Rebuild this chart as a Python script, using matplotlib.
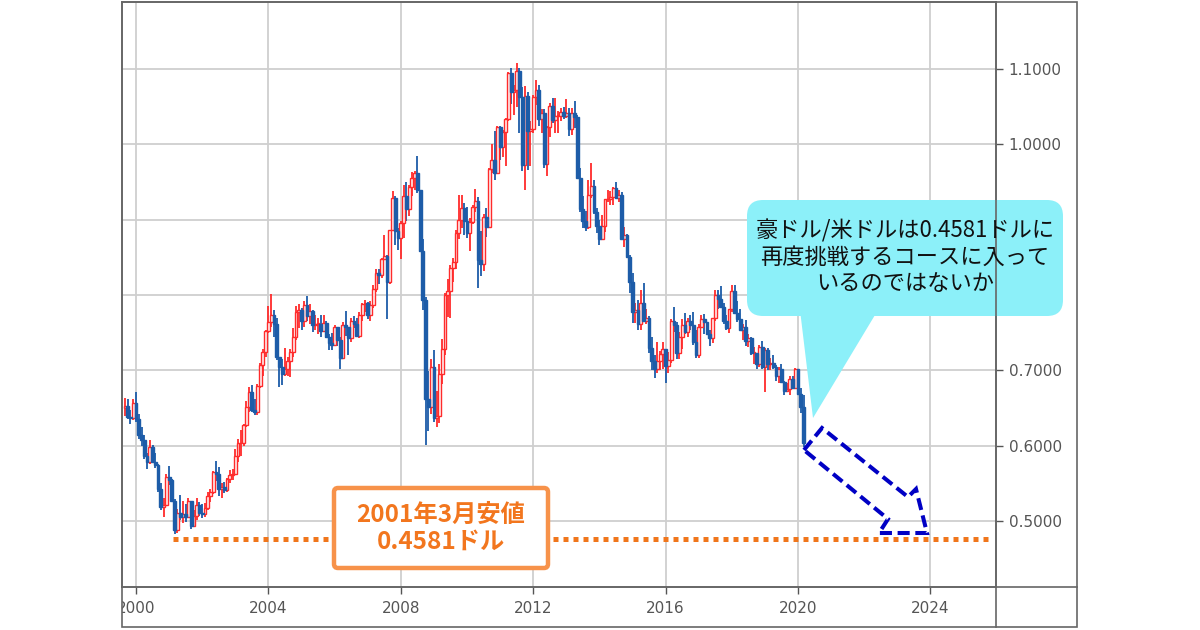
import numpy as np
import matplotlib
matplotlib.use("Agg")
import matplotlib.pyplot as plt
from matplotlib.patches import FancyBboxPatch, Polygon, Rectangle
from matplotlib.transforms import Bbox, TransformedBbox

plt.rcParams['font.family'] = ['DejaVu Sans', 'Noto Sans CJK JP']

# monthly AUD/USD candles, Sep 1999 .. Mar 2020
start_year = 1999 + 8 / 12
first_open = 0.6500

close = [
    0.6530, 0.6388, 0.6370, 0.6568,
    0.6360, 0.6140, 0.6080, 0.5860, 0.5790, 0.5985, 0.5790, 0.5740, 0.5420, 0.5190, 0.5210, 0.5590,
    0.5550, 0.5270, 0.4880, 0.5110, 0.5060, 0.5090, 0.5060, 0.5270, 0.4930, 0.5070, 0.5210, 0.5110,
    0.5090, 0.5170, 0.5330, 0.5390, 0.5650, 0.5630, 0.5420, 0.5450, 0.5410, 0.5560, 0.5610, 0.5620,
    0.5870, 0.6030, 0.6030, 0.6270, 0.6510, 0.6710, 0.6480, 0.6450, 0.6790, 0.7070, 0.7250, 0.7520,
    0.7640, 0.7740, 0.7620, 0.7180, 0.7040, 0.6950, 0.7020, 0.7130, 0.7240, 0.7450, 0.7770, 0.7800,
    0.7660, 0.7870, 0.7720, 0.7790, 0.7600, 0.7620, 0.7620, 0.7520, 0.7630, 0.7450, 0.7370, 0.7340,
    0.7580, 0.7410, 0.7160, 0.7600, 0.7580, 0.7430, 0.7660, 0.7620, 0.7460, 0.7740, 0.7880, 0.7900,
    0.7740, 0.7870, 0.8080, 0.8290, 0.8270, 0.8480, 0.8520, 0.8180, 0.8860, 0.9290, 0.8850, 0.8760,
    0.8960, 0.9320, 0.9140, 0.9440, 0.9560, 0.9620, 0.9400, 0.8590, 0.7930, 0.6620, 0.6510, 0.7040,
    0.6370, 0.6400, 0.6950, 0.7280, 0.8000, 0.8060, 0.8360, 0.8440, 0.8820, 0.9000, 0.9160, 0.8980,
    0.8830, 0.8970, 0.9170, 0.9250, 0.8470, 0.8410, 0.9040, 0.8910, 0.9680, 0.9800, 0.9620, 1.0230,
    0.9970, 1.0170, 1.0340, 1.0950, 1.0700, 1.0730, 1.0980, 1.0630, 0.9730, 1.0640, 1.0180, 1.0210,
    1.0630, 1.0720, 1.0340, 1.0420, 0.9740, 1.0230, 1.0510, 1.0330, 1.0380, 1.0380, 1.0430, 1.0380,
    1.0420, 1.0210, 1.0420, 1.0360, 0.9560, 0.9140, 0.8990, 0.8910, 0.9330, 0.9450, 0.9100, 0.8920,
    0.8740, 0.8920, 0.9270, 0.9280, 0.9300, 0.9420, 0.9290, 0.9330, 0.8740, 0.8800, 0.8500, 0.8170,
    0.7770, 0.7800, 0.7610, 0.7900, 0.7650, 0.7700, 0.7300, 0.7120, 0.7020, 0.7130, 0.7220, 0.7280,
    0.7060, 0.7140, 0.7660, 0.7600, 0.7230, 0.7450, 0.7600, 0.7510, 0.7650, 0.7600, 0.7380, 0.7210,
    0.7580, 0.7680, 0.7640, 0.7480, 0.7430, 0.7690, 0.8000, 0.7950, 0.7840, 0.7650, 0.7560, 0.7810,
    0.8050, 0.7760, 0.7680, 0.7530, 0.7570, 0.7390, 0.7430, 0.7230, 0.7230, 0.7080, 0.7310, 0.7040,
    0.7270, 0.7090, 0.7100, 0.7050, 0.6930, 0.7020, 0.6850, 0.6730, 0.6750, 0.6890, 0.6770, 0.7020,
    0.6690, 0.6510, 0.6030,
]

high = [
    0.6640, 0.6620, 0.6480, 0.6620,
    0.6710, 0.6420, 0.6250, 0.6140, 0.5900, 0.6070, 0.6010, 0.5900, 0.5760, 0.5500, 0.5300, 0.5620,
    0.5730, 0.5560, 0.5290, 0.5160, 0.5350, 0.5260, 0.5220, 0.5310, 0.5270, 0.5150, 0.5300, 0.5250,
    0.5220, 0.5240, 0.5380, 0.5420, 0.5670, 0.5800, 0.5720, 0.5500, 0.5520, 0.5570, 0.5680, 0.5690,
    0.5950, 0.6090, 0.6210, 0.6290, 0.6600, 0.6780, 0.6810, 0.6620, 0.6820, 0.7100, 0.7280, 0.7530,
    0.7850, 0.8010, 0.7800, 0.7700, 0.7180, 0.7150, 0.7300, 0.7180, 0.7290, 0.7560, 0.7850, 0.7880,
    0.7830, 0.7920, 0.7990, 0.7880, 0.7800, 0.7740, 0.7690, 0.7730, 0.7730, 0.7650, 0.7490, 0.7500,
    0.7600, 0.7570, 0.7450, 0.7640, 0.7790, 0.7580, 0.7700, 0.7720, 0.7690, 0.7780, 0.7890, 0.7930,
    0.7910, 0.7920, 0.8130, 0.8340, 0.8350, 0.8490, 0.8800, 0.8530, 0.8870, 0.9380, 0.9320, 0.8890,
    0.8990, 0.9460, 0.9500, 0.9460, 0.9640, 0.9650, 0.9850, 0.9400, 0.8750, 0.7970, 0.6990, 0.7150,
    0.7270, 0.6720, 0.7090, 0.7420, 0.8030, 0.8210, 0.8400, 0.8490, 0.8860, 0.9330, 0.9330, 0.9220,
    0.9170, 0.9020, 0.9200, 0.9410, 0.9300, 0.8850, 0.9080, 0.9150, 0.9690, 1.0000, 1.0180, 1.0240,
    1.0250, 1.0190, 1.0350, 1.0960, 1.1010, 1.0790, 1.1080, 1.1020, 1.0760, 1.0780, 1.0700, 1.0310,
    1.0660, 1.0860, 1.0790, 1.0470, 1.0470, 1.0240, 1.0550, 1.0620, 1.0620, 1.0440, 1.0480, 1.0500,
    1.0600, 1.0490, 1.0490, 1.0580, 1.0390, 0.9690, 0.9310, 0.9120, 0.9530, 0.9760, 0.9530, 0.9160,
    0.9000, 0.9060, 0.9280, 0.9400, 0.9380, 0.9440, 0.9500, 0.9400, 0.9370, 0.8900, 0.8810, 0.8530,
    0.8300, 0.7900, 0.7930, 0.8070, 0.8160, 0.7820, 0.7720, 0.7440, 0.7200, 0.7380, 0.7260, 0.7380,
    0.7290, 0.7240, 0.7680, 0.7840, 0.7640, 0.7510, 0.7680, 0.7760, 0.7700, 0.7740, 0.7780, 0.7530,
    0.7610, 0.7740, 0.7750, 0.7640, 0.7530, 0.7700, 0.8070, 0.8070, 0.8120, 0.7900, 0.7730, 0.7810,
    0.8136, 0.8130, 0.7920, 0.7810, 0.7610, 0.7670, 0.7480, 0.7450, 0.7310, 0.7230, 0.7340, 0.7390,
    0.7300, 0.7300, 0.7170, 0.7210, 0.7070, 0.7040, 0.7080, 0.6860, 0.6830, 0.6930, 0.6930, 0.7030,
    0.7020, 0.6770, 0.6680,
]

low = [
    0.6400, 0.6350, 0.6290, 0.6340,
    0.6320, 0.6090, 0.6000, 0.5830, 0.5690, 0.5760, 0.5770, 0.5710, 0.5390, 0.5140, 0.5060, 0.5200,
    0.5480, 0.5250, 0.4830, 0.4840, 0.5020, 0.4980, 0.4990, 0.5040, 0.4900, 0.4930, 0.5020, 0.5070,
    0.5040, 0.5050, 0.5140, 0.5250, 0.5360, 0.5530, 0.5330, 0.5310, 0.5370, 0.5390, 0.5500, 0.5540,
    0.5620, 0.5790, 0.5860, 0.5990, 0.6250, 0.6450, 0.6450, 0.6410, 0.6410, 0.6760, 0.6930, 0.7180,
    0.7500, 0.7580, 0.7440, 0.7140, 0.6780, 0.6810, 0.6930, 0.6930, 0.6910, 0.7180, 0.7410, 0.7560,
    0.7540, 0.7570, 0.7660, 0.7610, 0.7510, 0.7540, 0.7490, 0.7440, 0.7520, 0.7430, 0.7270, 0.7270,
    0.7320, 0.7330, 0.7020, 0.7150, 0.7460, 0.7200, 0.7380, 0.7560, 0.7440, 0.7430, 0.7660, 0.7770,
    0.7680, 0.7660, 0.7830, 0.8040, 0.8150, 0.8230, 0.8460, 0.7680, 0.8150, 0.8850, 0.8670, 0.8600,
    0.8480, 0.8760, 0.8980, 0.9050, 0.9310, 0.9400, 0.9360, 0.8570, 0.7800, 0.6008, 0.6190, 0.6420,
    0.6310, 0.6250, 0.6300, 0.6820, 0.7210, 0.7710, 0.7700, 0.8170, 0.8340, 0.8750, 0.8890, 0.8800,
    0.8760, 0.8580, 0.8940, 0.9100, 0.8090, 0.8250, 0.8320, 0.8770, 0.8890, 0.9620, 0.9530, 0.9700,
    0.9790, 0.9830, 0.9710, 1.0310, 1.0540, 1.0390, 1.0500, 1.0150, 0.9650, 0.9390, 0.9660, 0.9710,
    1.0150, 1.0530, 1.0250, 1.0150, 0.9690, 0.9580, 1.0100, 1.0290, 1.0150, 1.0150, 1.0310, 1.0340,
    1.0350, 1.0110, 1.0120, 1.0220, 0.9560, 0.9100, 0.8890, 0.8850, 0.8880, 0.9290, 0.9080, 0.8820,
    0.8660, 0.8850, 0.8840, 0.9230, 0.9190, 0.9200, 0.9290, 0.9240, 0.8740, 0.8640, 0.8500, 0.8030,
    0.7630, 0.7630, 0.7530, 0.7530, 0.7650, 0.7620, 0.7230, 0.7010, 0.6900, 0.6970, 0.7010, 0.7020,
    0.6830, 0.6970, 0.7100, 0.7510, 0.7150, 0.7150, 0.7280, 0.7480, 0.7440, 0.7540, 0.7340, 0.7160,
    0.7160, 0.7570, 0.7490, 0.7470, 0.7330, 0.7370, 0.7650, 0.7810, 0.7830, 0.7620, 0.7530, 0.7500,
    0.7770, 0.7760, 0.7640, 0.7530, 0.7410, 0.7320, 0.7310, 0.7200, 0.7080, 0.7020, 0.7050, 0.7020,
    0.6715, 0.7000, 0.7000, 0.7020, 0.6860, 0.6830, 0.6830, 0.6680, 0.6720, 0.6670, 0.6750, 0.6760,
    0.6680, 0.6430, 0.5980,
]

low_level = 0.476          # where the dotted support line sits on the chart
x_ticks = [2000, 2004, 2008, 2012, 2016, 2020, 2024]
y_ticks = [0.5, 0.6, 0.7, 0.8, 0.9, 1.0, 1.1]
hidden_y = [0.8, 0.9]      # these labels sit under the callout in the original

callout_text = "豪ドル/米ドルは0.4581ドルに\n再度挑戦するコースに入って\nいるのではないか"
box_text = "2001年3月安値\n0.4581ドル"

UP = "#ff2b2b"
DOWN = "#1d5ca8"
GRID = "#cfcfcf"
FRAME = "#666666"

c = np.array(close)
o = np.concatenate([[first_open], c[:-1]])
h = np.maximum(np.array(high), np.maximum(o, c))
l = np.minimum(np.array(low), np.minimum(o, c))
x = start_year + np.arange(len(c)) / 12
up = c >= o

fig = plt.figure(figsize=(12, 6.3), dpi=100)
fig.patch.set_facecolor("white")

ax = fig.add_axes([122 / 1200, 43 / 630, 874 / 1200, 585 / 630])
ax.set_xlim(1999.577, 2025.98)
ax.set_ylim(0.4124, 1.1892)

ax.grid(True, color=GRID, lw=1.3)
ax.set_axisbelow(True)

# wicks
ax.vlines(x[up], l[up], h[up], color=UP, lw=1.3, zorder=2)
ax.vlines(x[~up], l[~up], h[~up], color=DOWN, lw=1.3, zorder=2)
# bodies
w = 0.085
ax.bar(x[up], np.maximum(c[up] - o[up], 0.001), bottom=o[up], width=w,
       facecolor="#fff4f4", edgecolor=UP, lw=1.0, zorder=3)
ax.bar(x[~up], np.maximum(o[~up] - c[~up], 0.001), bottom=c[~up], width=w,
       facecolor=DOWN, edgecolor=DOWN, lw=1.0, zorder=3)

# dotted support line
ax.hlines(low_level, 2001.12, 2025.74, color="#f0761c", lw=3.6,
          linestyles=(0, (1, 1)), capstyle="butt", zorder=4)

ax.set_xticks(x_ticks)
ax.set_xticklabels([str(v) for v in x_ticks])
ax.set_yticks(y_ticks)
ax.set_yticklabels(["" if v in hidden_y else f"{v:.4f}" for v in y_ticks])
ax.yaxis.tick_right()
ax.tick_params(axis="both", colors="#555555", labelcolor="#555555",
               labelsize=11, length=5, width=1, direction="out")
ax.tick_params(axis="y", pad=4)
ax.tick_params(axis="x", pad=5)
for s in ax.spines.values():
    s.set_color(FRAME)
    s.set_linewidth(1.2)

# clip tick labels to the outer frame (the "2000" gets cut like the original)
clip = TransformedBbox(Bbox([[122 / 1200, 0], [1077 / 1200, 1]]), fig.transFigure)
for lbl in ax.get_xticklabels():
    lbl.set_clip_box(clip)
    lbl.set_clip_on(True)

# overlay in pixel coordinates for the frame and annotations
ov = fig.add_axes([0, 0, 1, 1], zorder=10)
ov.set_xlim(0, 1200)
ov.set_ylim(630, 0)
ov.axis("off")
ov.patch.set_alpha(0)

ov.add_patch(Rectangle((122, 2), 955, 625, fill=False, ec=FRAME, lw=1.2))
ov.plot([122, 1077], [587, 587], color=FRAME, lw=1.2)
ov.plot([996, 996], [2, 627], color=FRAME, lw=1.2)

# callout bubble
bubble = "#8cf0f9"
ov.add_patch(FancyBboxPatch((747, 200), 316, 116,
                            boxstyle="round,pad=0,rounding_size=16",
                            fc=bubble, ec="none"))
ov.add_patch(Polygon([(800, 310), (878, 310), (813, 418)], closed=True,
                     fc=bubble, ec="none"))
ov.text(905, 257, callout_text, ha="center", va="center", fontsize=16,
        family=["Noto Sans CJK JP", "DejaVu Sans"], color="#111111",
        linespacing=1.18)

# orange label box
ov.add_patch(FancyBboxPatch((334, 488), 214, 80,
                            boxstyle="round,pad=0,rounding_size=4",
                            fc="white", ec="#f7924a", lw=3.2))
ov.text(441, 528, box_text, ha="center", va="center", fontsize=17.5,
        family=["Noto Sans CJK JP", "DejaVu Sans"], fontweight="bold",
        color="#f2761e", linespacing=1.15)

# dashed blue block arrow
arrow = [(804, 450), (822, 428), (908, 497), (916, 489), (927, 533),
         (879, 533), (888, 519), (804, 450)]
ov.add_patch(Polygon(arrow, closed=True, fill=False, ec="#0000c4", lw=2.9,
                     ls=(0, (3, 1.4)), joinstyle="miter"))

fig.savefig("out.png", dpi=100)
